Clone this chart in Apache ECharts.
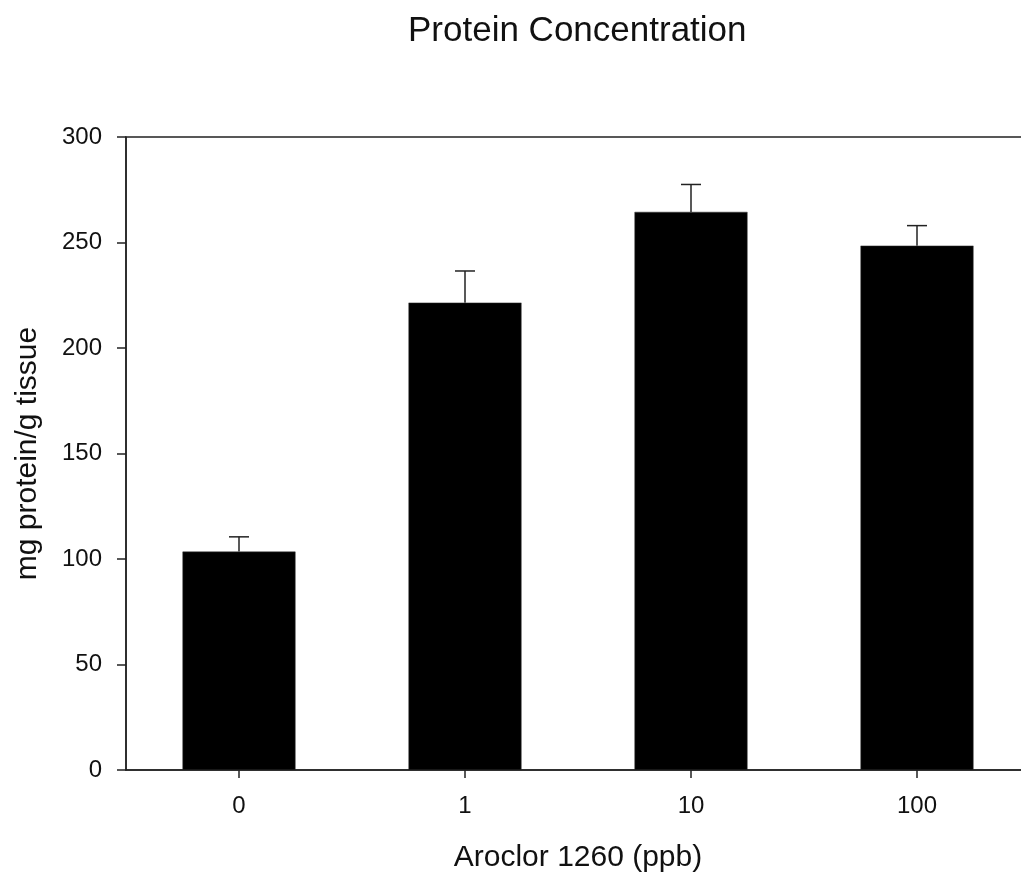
<!DOCTYPE html>
<html>
<head>
<meta charset="utf-8">
<script src="https://cdn.jsdelivr.net/npm/echarts@6/dist/echarts.min.js"></script>
<style>html,body{margin:0;padding:0;background:#fff;}#c{width:1021px;height:879px;}</style>
</head>
<body>
<div id="c"></div>
<script>
const categories = ['0', '1', '10', '100'];
const meanValues = [103.5, 221.5, 264.5, 248.5];
const errorValues = [7, 15, 13, 9.5];
const yTicks = [0, 50, 100, 150, 200, 250, 300];

const FONT = '"Liberation Sans", Arial, sans-serif';
const chart = echarts.init(document.getElementById('c'), null, {renderer: 'canvas'});
const errData = categories.map((c, i) => [i, meanValues[i], errorValues[i]]);

chart.setOption({
  animation: false,
  backgroundColor: '#fff',
  title: {
    text: 'Protein Concentration',
    left: 403, top: 9,
    textStyle: {fontFamily: FONT, fontSize: 35, fontWeight: 'normal', color: '#111'}
  },
  grid: {
    left: 126, top: 137, width: 904, height: 633,
    outerBoundsMode: 'none', containLabel: false,
    show: true, borderColor: '#222', borderWidth: 1.5, backgroundColor: 'transparent'
  },
  xAxis: {
    type: 'category', data: categories,
    name: 'Aroclor 1260 (ppb)', nameLocation: 'middle', nameGap: 73,
    nameTextStyle: {fontFamily: FONT, fontSize: 30, color: '#111'},
    axisLine: {lineStyle: {color: '#222', width: 1.5}},
    axisTick: {show: true, alignWithLabel: true, length: 8, lineStyle: {color: '#222', width: 1.5}},
    axisLabel: {fontFamily: FONT, fontSize: 24, color: '#111', margin: 24}
  },
  yAxis: {
    type: 'value', min: 0, max: 300, interval: 50,
    name: 'mg protein/g tissue', nameLocation: 'middle', nameGap: 83, nameRotate: 90,
    nameTextStyle: {fontFamily: FONT, fontSize: 30, color: '#111'},
    axisLine: {show: true, lineStyle: {color: '#222', width: 1.5}},
    axisTick: {show: true, inside: false, length: 9, lineStyle: {color: '#222', width: 1.5}},
    axisLabel: {fontFamily: FONT, fontSize: 24, color: '#111', margin: 24,
      formatter: v => yTicks.includes(v) ? String(v) : ''},
    splitLine: {show: false}
  },
  series: [
    {
      type: 'bar', data: meanValues, barWidth: '50%',
      itemStyle: {color: '#000', borderColor: '#333', borderWidth: 0.5}
    },
    {
      type: 'custom', data: errData, z: 1,
      renderItem: function (params, api) {
        const x = api.value(0), m = api.value(1), e = api.value(2);
        const base = api.coord([x, m]);
        const top = api.coord([x, m + e]);
        const hw = 10;
        return {
          type: 'group',
          children: [
            {type: 'line', shape: {x1: base[0], y1: base[1], x2: top[0], y2: top[1]},
             style: {stroke: '#222', lineWidth: 1.5}},
            {type: 'line', shape: {x1: top[0] - hw, y1: top[1], x2: top[0] + hw, y2: top[1]},
             style: {stroke: '#222', lineWidth: 1.5}}
          ]
        };
      }
    }
  ]
});
</script>
</body>
</html>
